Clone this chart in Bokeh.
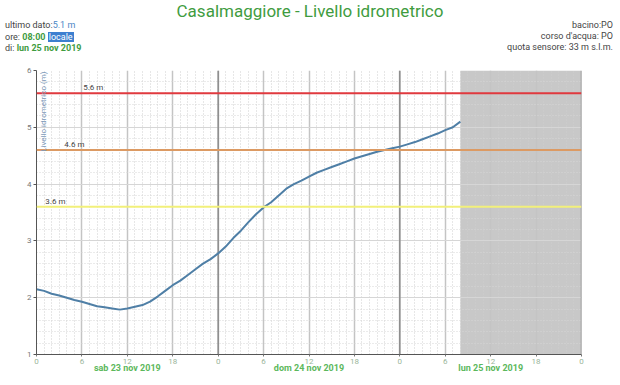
import math
from bokeh.plotting import figure
from bokeh.models import Span, BoxAnnotation, Label, FixedTicker, Range1d, LinearAxis, Div
from bokeh.layouts import column
from bokeh.embed import file_html
from bokeh.resources import INLINE

# ---- data ----
hours = list(range(0, 57))  # hours since sab 23 nov 2019 00:00
levels = [2.15, 2.12, 2.07, 2.04, 2.00, 1.96, 1.93, 1.89, 1.85, 1.83,
          1.81, 1.79, 1.81, 1.84, 1.87, 1.93, 2.02, 2.12, 2.22, 2.30,
          2.40, 2.50, 2.60, 2.68, 2.78, 2.90, 3.05, 3.18, 3.33, 3.47,
          3.59, 3.68, 3.80, 3.92, 4.00, 4.06, 4.13, 4.20, 4.25, 4.30,
          4.35, 4.40, 4.45, 4.49, 4.53, 4.57, 4.60, 4.63, 4.66, 4.70,
          4.74, 4.79, 4.84, 4.89, 4.95, 5.00, 5.10]
thresholds = [5.6, 4.6, 3.6]
threshold_labels = ["5.6 m", "4.6 m", "3.6 m"]
threshold_colors = ["#e0393e", "#dc9a63", "#f2f07a"]
threshold_label_x = [7.5, 5.0, 2.5]
x_ticks = list(range(0, 73, 6))
x_tick_labels = ["0", "6", "12", "18"] * 4 + ["0"]
y_ticks = [1, 2, 3, 4, 5, 6]
day_labels = ["sab 23 nov 2019", "dom 24 nov 2019", "lun 25 nov 2019"]
day_centers = [12, 36, 60]
midnights = [24, 48, 72]
forecast_start, forecast_end = 56, 72
station = "Casalmaggiore"
last_value = "5.1 m"
last_time = "08:00"
last_day = "lun 25 nov 2019"
basin = "PO"
river = "PO"
sensor_alt = "33 m s.l.m."

FONT = "Roboto"
GREEN = "#3f9c3f"
W = 620
HEAD_H = 64
FIG_H = 385 - HEAD_H

header_html = f"""
<div style="position:relative;width:{W}px;height:{HEAD_H}px;font-family:Roboto,sans-serif;color:#444;font-size:9px;line-height:11px;">
  <div style="position:absolute;left:0;top:1px;width:{W}px;text-align:center;font-size:17px;line-height:20px;color:{GREEN};">{station} - Livello idrometrico</div>
  <div style="position:absolute;left:5px;top:20px;white-space:nowrap;">ultimo dato:<span style="color:#4a86c5;">{last_value}</span></div>
  <div style="position:absolute;left:5px;top:32px;white-space:nowrap;">ore: <b style="color:{GREEN};">{last_time}</b> <span style="background:#3d7fd0;color:#fff;padding:0 1px;">locale</span></div>
  <div style="position:absolute;left:5px;top:43px;white-space:nowrap;">di: <b style="color:{GREEN};">{last_day}</b></div>
  <div style="position:absolute;right:7px;top:20px;white-space:nowrap;text-align:right;">bacino:{basin}</div>
  <div style="position:absolute;right:7px;top:31px;white-space:nowrap;text-align:right;">corso d'acqua: {river}</div>
  <div style="position:absolute;right:7px;top:42px;white-space:nowrap;text-align:right;">quota sensore: {sensor_alt}</div>
</div>
"""
header = Div(text=header_html, width=W, height=HEAD_H, margin=0)

p = figure(width=W, height=FIG_H, output_backend="svg", toolbar_location=None,
           x_range=Range1d(0, 72), y_range=Range1d(1, 6),
           min_border_left=36, min_border_right=W - 581,
           min_border_top=6, min_border_bottom=31)
p.outline_line_color = None
p.background_fill_color = "white"

# shaded region (no data yet)
p.add_layout(BoxAnnotation(left=forecast_start, right=forecast_end,
                           fill_color="#c8c8c8", fill_alpha=1.0, line_color=None,
                           level="image"))

# grids
p.xgrid.ticker = FixedTicker(ticks=x_ticks, minor_ticks=list(range(0, 73)))
p.xgrid.grid_line_color = "#c4c4c4"
p.xgrid.grid_line_width = 1.5
p.xgrid.minor_grid_line_color = "#cfcfcf"
p.xgrid.minor_grid_line_dash = "1 2"
p.ygrid.ticker = FixedTicker(ticks=y_ticks,
                             minor_ticks=[1 + i * 0.2 for i in range(26)])
p.ygrid.grid_line_color = "#d6d6d6"
p.ygrid.minor_grid_line_color = "#d6d6d6"
p.ygrid.minor_grid_line_dash = "1 2"
for m in midnights:
    p.add_layout(Span(location=m, dimension="height", line_color="#8a8a8a",
                      line_width=1.5, level="underlay"))

# thresholds
for t, lab, c, lx in zip(thresholds, threshold_labels, threshold_colors, threshold_label_x):
    p.add_layout(Span(location=t, dimension="width", line_color=c, line_width=2))
    p.add_layout(Label(x=lx, y=t, text=lab, text_align="center", text_baseline="bottom",
                       y_offset=1, text_font_size="8px", text_color="#444",
                       text_font=FONT))

# series
p.line(hours, levels, line_color="#4f7fa6", line_width=2)

# axes
p.xaxis.ticker = FixedTicker(ticks=x_ticks)
p.xaxis.major_label_overrides = {t: l for t, l in zip(x_ticks, x_tick_labels)}
p.xaxis.minor_tick_line_color = None
p.xaxis.major_tick_out = 2
p.xaxis.major_tick_in = 0
p.xaxis.major_label_standoff = 2
p.xaxis.major_label_text_font_size = "8px"
p.xaxis.major_label_text_color = "#9ab59a"
p.xaxis.major_label_text_font = FONT
p.xaxis.axis_line_color = "#555"
p.xaxis.major_tick_line_color = "#777"

day_axis = LinearAxis(ticker=FixedTicker(ticks=day_centers),
                      major_label_overrides={c: d for c, d in zip(day_centers, day_labels)},
                      axis_line_color=None, major_tick_line_color=None,
                      minor_tick_line_color=None, major_tick_out=0, major_tick_in=0,
                      major_label_standoff=-4, major_label_text_font_size="9px",
                      major_label_text_font_style="bold", major_label_text_color="#5cb85c",
                      major_label_text_font=FONT)
p.add_layout(day_axis, "below")

p.yaxis.ticker = FixedTicker(ticks=y_ticks)
p.yaxis.minor_tick_line_color = None
p.yaxis.major_tick_out = 3
p.yaxis.major_tick_in = 0
p.yaxis.major_label_standoff = 2
p.yaxis.major_label_text_font_size = "8px"
p.yaxis.major_label_text_color = "#777"
p.yaxis.major_label_text_font = FONT
p.yaxis.axis_line_color = "#555"
p.yaxis.major_tick_line_color = "#555"

# y-axis title inside the plot
p.add_layout(Label(x=0, y=6, text="Livello idrometrico (m)", angle=math.pi / 2,
                   text_align="right", text_baseline="middle", x_offset=7, y_offset=-1,
                   text_font_size="8px", text_color="#7b98b8", text_font=FONT))

layout = column(header, p, spacing=0)
open("out.html", "w").write(file_html(layout, INLINE))
